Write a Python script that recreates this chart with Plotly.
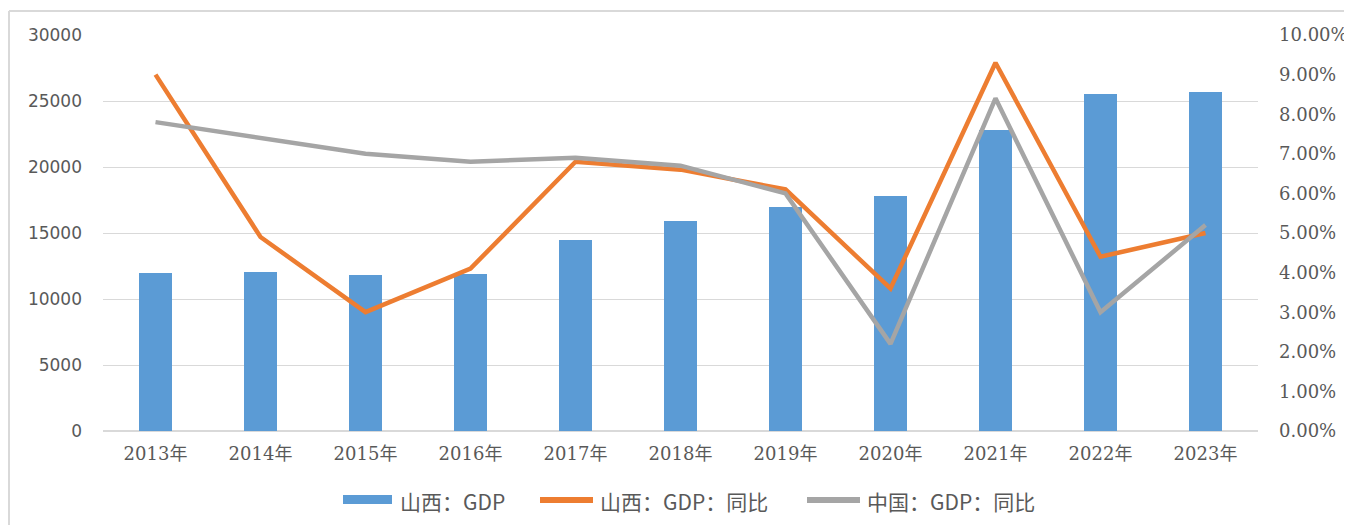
import plotly.graph_objects as go

years = ["2013年", "2014年", "2015年", "2016年", "2017年", "2018年", "2019年", "2020年", "2021年", "2022年", "2023年"]
shanxi_gdp = [11970, 12045, 11820, 11895, 14470, 15910, 16970, 17800, 22800, 25530, 25680]
shanxi_yoy = [0.090, 0.049, 0.030, 0.041, 0.068, 0.066, 0.061, 0.036, 0.093, 0.044, 0.050]
china_yoy = [0.078, 0.074, 0.070, 0.068, 0.069, 0.067, 0.060, 0.022, 0.084, 0.030, 0.052]
series_names = ["山西：GDP", "山西：GDP：同比", "中国：GDP：同比"]

BLUE, ORANGE, GRAY = "#5B9BD5", "#ED7D31", "#A5A5A5"
TXT = "#595959"

fig = go.Figure()
fig.add_trace(go.Bar(x=years, y=shanxi_gdp, name=series_names[0], showlegend=False,
                     marker=dict(color=BLUE, line=dict(width=0)), width=0.305))
fig.add_trace(go.Scatter(x=years, y=shanxi_yoy, name=series_names[1], mode="lines", yaxis="y2",
                         showlegend=False, line=dict(color=ORANGE, width=4.5)))
fig.add_trace(go.Scatter(x=years, y=china_yoy, name=series_names[2], mode="lines", yaxis="y2",
                         showlegend=False, line=dict(color=GRAY, width=4.5)))

# page is rendered with an 8px body margin; work in page pixels
OFF = 8
PAGE_W, PAGE_H = 1352, 525
W, H = PAGE_W - OFF, PAGE_H - OFF
PL, PR, PT, PB = 103, 1258, 35, 431  # plot area in page pixels
L, T = PL - OFF, PT - OFF
R, B = PAGE_W - PR, PAGE_H - PB
pw, ph = PR - PL, PB - PT

def px(x):
    return (x - PL) / pw

def py(y):
    return (PB - y) / ph

shapes = [
    dict(type="line", xref="paper", yref="paper", x0=px(9), x1=px(1360), y0=py(11), y1=py(11),
         line=dict(color="#D9D9D9", width=2)),
    dict(type="line", xref="paper", yref="paper", x0=px(9), x1=px(9), y0=py(11), y1=py(540),
         line=dict(color="#D9D9D9", width=2)),
]
annotations = []

# manual legend (symbol + text), positions in page pixels
legend_items = [
    (series_names[0], BLUE, 343, 392, 495, 504, 398),
    (series_names[1], ORANGE, 540, 593, 497, 503, 598),
    (series_names[2], GRAY, 807, 860, 497, 503, 865),
]
for name, color, x0, x1, y0, y1, tx in legend_items:
    shapes.append(dict(type="rect", xref="paper", yref="paper", x0=px(x0), x1=px(x1),
                       y0=py(y1), y1=py(y0), fillcolor=color, line=dict(width=0), layer="above"))
    annotations.append(dict(text=name, xref="paper", yref="paper", x=px(tx), y=py(501),
                            xanchor="left", yanchor="middle", showarrow=False,
                            font=dict(family="Noto Sans CJK SC", size=21, color=TXT)))

fig.update_layout(
    width=W, height=H,
    margin=dict(l=L, r=R, t=T, b=B, autoexpand=False),
    paper_bgcolor="white", plot_bgcolor="white",
    bargap=0,
    showlegend=False,
    xaxis=dict(showgrid=False, showline=False, ticks="", ticklabelstandoff=10,
               tickfont=dict(family="DejaVu Serif, Noto Sans CJK SC", size=18, color=TXT)),
    yaxis=dict(range=[0, 30000], dtick=5000, tickformat="d", showgrid=True, gridcolor="#D9D9D9", gridwidth=1,
               zeroline=True, zerolinecolor="#D9D9D9", zerolinewidth=2, showline=False,
               ticklabelstandoff=20,
               tickfont=dict(family="DejaVu Sans", size=17, color=TXT)),
    yaxis2=dict(range=[0, 0.1], dtick=0.01, tickformat=".2%", overlaying="y", side="right",
                showgrid=False, zeroline=False, showline=False, ticklabelstandoff=20,
                tickfont=dict(family="DejaVu Serif", size=18, color=TXT)),
    shapes=shapes,
    annotations=annotations,
)

fig.write_html("out.html")
